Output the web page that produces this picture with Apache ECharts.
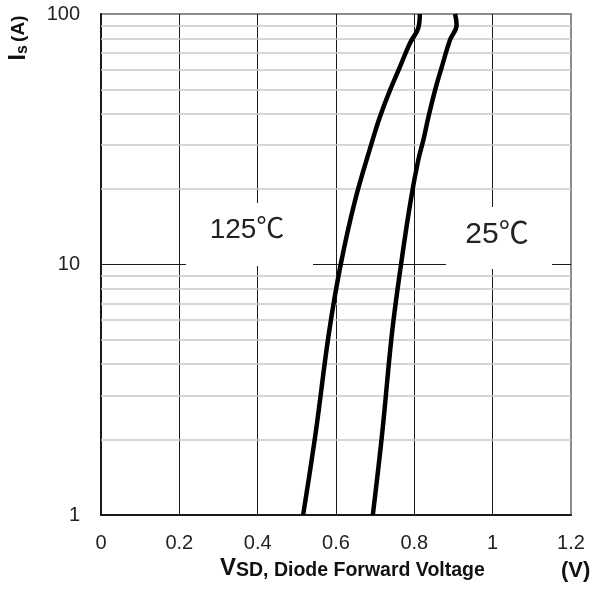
<!DOCTYPE html>
<html>
<head>
<meta charset="utf-8">
<script src="https://cdn.jsdelivr.net/npm/echarts@6/dist/echarts.min.js"></script>
<style>
  html, body { margin: 0; padding: 0; background: #fff; }
  #chart { width: 594px; height: 591px; }
</style>
</head>
<body>
<div id="chart"></div>
<script>
// source current Is (A) and forward voltage VSD (V)
const is125 = [1, 2.125, 5.33, 10, 18.1, 30.5, 38.8, 49.7, 61.4, 76.6, 87.9, 100];
const vsd125 = [0.516, 0.548, 0.582, 0.612, 0.649, 0.691, 0.712, 0.738, 0.763, 0.789, 0.81, 0.814];
const is25 = [1, 2.125, 5.33, 10, 18.1, 26.1, 31.4, 38.8, 49.7, 61.4, 78.8, 90.4, 100];
const vsd25 = [0.694, 0.718, 0.743, 0.766, 0.791, 0.81, 0.823, 0.836, 0.853, 0.87, 0.891, 0.908, 0.904];

// light grey log grid lines
const minorGrid = [2, 3, 4, 5, 6, 7, 8, 9, 20, 30, 40, 50, 60, 70, 80, 90];

const xTicks = [0, 0.2, 0.4, 0.6, 0.8, 1, 1.2];
const yTicks = [1, 10, 100];

const FONT = '"Liberation Sans", Arial, "Noto Sans CJK SC", sans-serif';

function pairs(xs, ys) {
  return xs.map((x, i) => [x, ys[i]]);
}

const chart = echarts.init(document.getElementById('chart'));

const curveStyle = { color: '#000', width: 4.5 };

const option = {
  animation: false,
  backgroundColor: '#fff',
  grid: {
    left: 101,
    right: 23,
    top: 14,
    bottom: 76,
    show: true,
    borderColor: '#8c8c8c',
    borderWidth: 2,
  },
  xAxis: {
    type: 'value',
    min: xTicks[0],
    max: xTicks[xTicks.length - 1],
    interval: 0.2,
    axisLine: { show: true, onZero: false, lineStyle: { color: '#1a1a1a', width: 2 } },
    axisTick: { show: false },
    axisLabel: {
      margin: 18,
      fontSize: 20,
      color: '#222',
      fontFamily: FONT,
    },
    splitLine: {
      show: true,
      showMinLine: false,
      showMaxLine: false,
      lineStyle: { color: '#1a1a1a', width: 1 },
    },
  },
  yAxis: {
    type: 'log',
    logBase: 10,
    min: yTicks[0],
    max: yTicks[yTicks.length - 1],
    axisLine: { show: true, lineStyle: { color: '#1a1a1a', width: 2 } },
    axisTick: { show: false },
    axisLabel: {
      margin: 21,
      fontSize: 20,
      color: '#222',
      fontFamily: FONT,
    },
    splitLine: {
      show: true,
      showMinLine: false,
      showMaxLine: false,
      lineStyle: { color: '#1a1a1a', width: 1 },
    },
  },
  series: [
    {
      type: 'line',
      data: [],
      silent: true,
      z: 1,
      markLine: {
        silent: true,
        symbol: ['none', 'none'],
        label: { show: false },
        lineStyle: { color: '#c8c8c8', width: 1.5, type: 'solid' },
        data: minorGrid.map((v) => ({ yAxis: v })),
      },
    },
    {
      name: '125℃',
      type: 'line',
      data: pairs(vsd125, is125),
      smooth: 0.4,
      showSymbol: false,
      lineStyle: curveStyle,
      z: 5,
    },
    {
      name: '25℃',
      type: 'line',
      data: pairs(vsd25, is25),
      smooth: 0.4,
      showSymbol: false,
      lineStyle: curveStyle,
      z: 5,
    },
  ],
  graphic: [
    { type: 'rect', z: 10, shape: { x: 186, y: 203, width: 127, height: 63 }, style: { fill: '#fff' } },
    { type: 'rect', z: 10, shape: { x: 446, y: 207, width: 106, height: 62 }, style: { fill: '#fff' } },
    {
      type: 'text', z: 11, x: 247, y: 230,
      style: { text: '125℃', font: '28px ' + FONT, fill: '#222', align: 'center', verticalAlign: 'middle' },
    },
    {
      type: 'text', z: 11, x: 497, y: 235,
      style: { text: '25℃', font: '30px ' + FONT, fill: '#222', align: 'center', verticalAlign: 'middle' },
    },
    {
      type: 'text', z: 11, x: 220, y: 580,
      style: {
        text: '{a|V}{b|SD, Diode Forward Voltage}',
        verticalAlign: 'bottom',
        rich: {
          a: { fontSize: 24, fontWeight: 'bold', fontFamily: FONT, fill: '#111', verticalAlign: 'bottom' },
          b: { fontSize: 19.5, fontWeight: 'bold', fontFamily: FONT, fill: '#111', verticalAlign: 'bottom' },
        },
      },
    },
    {
      type: 'text', z: 11, x: 561, y: 582,
      style: { text: '(V)', font: 'bold 22px ' + FONT, fill: '#111', verticalAlign: 'bottom' },
    },
    {
      type: 'text', z: 11, x: 19, y: 38, rotation: Math.PI / 2,
      style: {
        text: '{a|I}{b|s} {c|(A)}',
        align: 'center',
        verticalAlign: 'middle',
        rich: {
          a: { fontSize: 23, fontWeight: 'bold', fontFamily: FONT, fill: '#111' },
          b: { fontSize: 16, fontWeight: 'bold', fontFamily: FONT, fill: '#111', padding: [7, 0, 0, 0] },
          c: { fontSize: 19, fontWeight: 'bold', fontFamily: FONT, fill: '#111' },
        },
      },
    },
  ],
};

chart.setOption(option);
</script>
</body>
</html>
